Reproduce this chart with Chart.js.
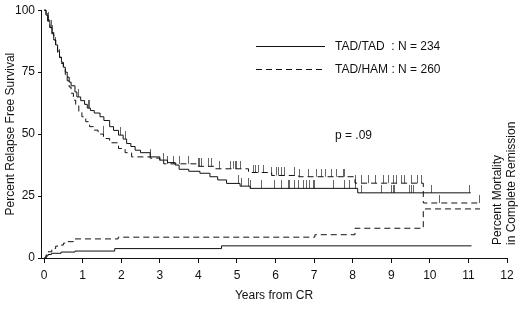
<!DOCTYPE html>
<html lang="en">
<head>
<meta charset="UTF-8">
<title>Relapse Free Survival TAD/TAD vs TAD/HAM</title>
<script src="https://cdn.jsdelivr.net/npm/chart.js"></script>
<style>
  html, body { margin: 0; padding: 0; background: #fff; }
  #wrap { width: 520px; height: 312px; }
</style>
</head>
<body>
<div id="wrap"><canvas id="myChart"></canvas></div>
<script>
// relapse free survival, TAD/TAD arm (years from CR, percent)
const tadTadTimes = [0, 0.05, 0.1, 0.15, 0.2, 0.25, 0.3, 0.35, 0.4, 0.45, 0.5, 0.55, 0.6, 0.65, 0.7, 0.8, 0.85, 0.95, 1.05, 1.12,
  1.2, 1.3, 1.45, 1.55, 1.7, 1.8, 1.93, 2.05, 2.14, 2.25, 2.36, 2.5, 2.75, 3.0, 3.2, 3.4, 3.5, 3.75, 4.04, 4.3,
  4.5, 4.73, 5.08, 5.34, 8.13, 11.06];
const tadTadRfs = [100, 98, 96, 93, 91, 88, 86, 83.5, 81, 79, 77, 75, 73, 71, 69.5, 67, 65, 63.5, 62, 60.5,
  59.5, 58.5, 57, 55.5, 53, 51.5, 49.6, 48, 46.2, 45, 43.5, 42.5, 40.8, 39.5, 38.5, 37.5, 35.8, 35, 34.2, 32.8,
  31.5, 30.1, 29, 28.1, 26.3, 26.3];

// relapse free survival, TAD/HAM arm
const tadHamTimes = [0, 0.05, 0.1, 0.15, 0.2, 0.25, 0.3, 0.35, 0.4, 0.45, 0.5, 0.55, 0.6, 0.65, 0.7, 0.76, 0.82, 0.9, 0.98, 1.08,
  1.18, 1.28, 1.4, 1.54, 1.7, 1.93, 2.1, 2.27, 2.75, 3.0, 3.1, 4.0, 4.4, 5.3, 5.9, 6.6, 8.06, 9.83, 11.3];
const tadHamRfs = [100, 98, 95.5, 93, 90.5, 88, 85.5, 83, 81, 78.5, 76.5, 74, 71.5, 69, 66.5, 63.7, 61.5, 59, 57, 55,
  53, 51.6, 50, 48.2, 46.5, 44.2, 42.5, 40.8, 40.3, 39, 38, 37, 36, 34.5, 33.3, 32.8, 30.2, 22.2, 22.2];

// mortality in complete remission
const mortTadTimes = [0, 0.05, 0.1, 0.19, 0.44, 0.8, 1.83, 4.6, 11.08];
const mortTadPct = [0, 0.8, 1.4, 1.9, 2.4, 2.8, 3.8, 4.9, 4.9];
const mortHamTimes = [0, 0.05, 0.1, 0.2, 0.3, 0.36, 0.5, 0.62, 0.79, 1.92, 7.02, 8.06, 9.83, 11.3];
const mortHamPct = [0, 1.2, 2.5, 3.8, 4.8, 5.2, 6, 6.6, 7.7, 8.4, 9.4, 12, 19.8, 19.8];

// censored observations (years)
const tadTadCensor = [0.12, 0.22, 0.3, 0.88, 1.15, 1.19, 1.97, 2.1, 2.75, 5.03, 5.12, 5.29, 5.34, 5.64, 5.98, 6.16, 6.33,
  6.37, 6.5, 6.59, 6.72, 6.8, 6.89, 6.98, 7.02, 7.5, 7.8, 7.93, 8.06, 8.23, 8.75, 9.0, 9.05, 9.09, 9.48, 9.52, 9.57,
  10.04, 11.04];
const tadHamCensor = [0.1, 0.18, 0.4, 1.53, 3.09, 3.2, 3.35, 3.52, 3.74, 4.0, 4.04, 4.09, 4.26, 4.34, 4.56, 4.82, 4.9,
  4.95, 4.99, 5.08, 5.42, 5.47, 5.55, 5.68, 5.9, 6.03, 6.07, 6.16, 6.24, 6.5, 6.63, 6.85, 7.07, 7.19, 7.3, 7.45, 7.57,
  7.75, 7.8, 8.06, 8.23, 8.4, 8.59, 8.79, 8.92, 9.05, 9.14, 9.27, 9.35, 9.52, 9.69, 9.78, 10.26, 11.3];

const xTicks = [0, 1, 2, 3, 4, 5, 6, 7, 8, 9, 10, 11, 12];
const yTicks = [0, 25, 50, 75, 100];
const legendLabels = ['TAD/TAD  : N = 234', 'TAD/HAM : N = 260'];
const pValueText = 'p = .09';
const rightTitle = ['Percent Mortality', 'in Complete Remission'];

const FONT = '"Liberation Sans", Arial, sans-serif';
const INK = '#111';
const DASH = [6, 4];

function toPoints(times, vals) {
    return times.map((t, i) => ({ x: t, y: vals[i] }));
}

// value of a step curve at time t
function stepAt(times, vals, t) {
    let v = vals[0];
    for (let i = 0; i < times.length; i++) {
        if (times[i] <= t) v = vals[i];
    }
    return v;
}

// small vertical tick drawn upward from the curve
const censorMark = document.createElement('canvas');
censorMark.width = 1;
censorMark.height = 16;
(function () {
    const c = censorMark.getContext('2d');
    c.fillStyle = '#666';
    c.fillRect(0, 0, 1, 8);
})();

function stepLine(data, dashed) {
    return {
        data: data,
        borderColor: INK,
        borderWidth: 1,
        borderDash: dashed ? DASH : [],
        stepped: 'before',   // hold the previous value until the next time point
        pointRadius: 0,
        fill: false,
        clip: false
    };
}

function censorSet(times, curveT, curveV) {
    return {
        type: 'scatter',
        data: times.map(t => ({ x: t, y: stepAt(curveT, curveV, t) })),
        pointStyle: censorMark,
        pointRadius: 8,
        showLine: false,
        clip: false
    };
}

const annotations = {
    id: 'annotations',
    afterDraw(chart) {
        const ctx = chart.ctx;
        ctx.save();
        ctx.strokeStyle = INK;
        ctx.fillStyle = INK;
        ctx.lineWidth = 1;
        ctx.font = '12px ' + FONT;
        ctx.textBaseline = 'middle';
        ctx.textAlign = 'left';

        // legend
        ctx.beginPath();
        ctx.moveTo(256, 46.5);
        ctx.lineTo(325, 46.5);
        ctx.stroke();
        ctx.setLineDash(DASH);
        ctx.beginPath();
        ctx.moveTo(256, 69.5);
        ctx.lineTo(325, 69.5);
        ctx.stroke();
        ctx.setLineDash([]);
        ctx.fillText(legendLabels[0], 335, 47);
        ctx.fillText(legendLabels[1], 335, 70);

        ctx.fillText(pValueText, 335, 136);

        // right hand axis title
        ctx.translate(498, 245);
        ctx.rotate(-Math.PI / 2);
        ctx.fillText(rightTitle[0], 0, 0);
        ctx.fillText(rightTitle[1], 0, 14);
        ctx.restore();
    }
};

const config = {
    type: 'line',
    data: {
        datasets: [
            stepLine(toPoints(tadTadTimes, tadTadRfs), false),
            stepLine(toPoints(tadHamTimes, tadHamRfs), true),
            stepLine(toPoints(mortTadTimes, mortTadPct), false),
            stepLine(toPoints(mortHamTimes, mortHamPct), true),
            censorSet(tadTadCensor, tadTadTimes, tadTadRfs),
            censorSet(tadHamCensor, tadHamTimes, tadHamRfs)
        ]
    },
    options: {
        responsive: true,
        maintainAspectRatio: false,
        animation: false,
        layout: { padding: { top: 10, right: 13, left: 0, bottom: 0 } },
        plugins: {
            legend: { display: false },
            tooltip: { enabled: false }
        },
        scales: {
            x: {
                type: 'linear',
                min: -0.08,
                max: 12,
                afterBuildTicks: (axis) => { axis.ticks = xTicks.map(v => ({ value: v })); },
                afterFit: (axis) => { axis.height = 54; },
                border: { color: INK, width: 1 },
                grid: { drawOnChartArea: false, tickLength: 5, color: INK },
                ticks: { color: INK, padding: 5, maxRotation: 0, font: { family: FONT, size: 12 } },
                title: {
                    display: true,
                    text: 'Years from CR',
                    color: INK,
                    font: { family: FONT, size: 12 },
                    padding: { top: 4, bottom: 9 }
                }
            },
            y: {
                min: 0,
                max: 100,
                afterBuildTicks: (axis) => { axis.ticks = yTicks.map(v => ({ value: v })); },
                afterFit: (axis) => { axis.width = 41; },
                border: { color: INK, width: 1 },
                grid: { drawOnChartArea: false, tickLength: 3, color: INK },
                ticks: { color: INK, padding: 3, font: { family: FONT, size: 12 } },
                title: {
                    display: true,
                    text: 'Percent Relapse Free Survival',
                    color: INK,
                    font: { family: FONT, size: 12 },
                    padding: { top: 3, bottom: 0 }
                }
            }
        }
    },
    plugins: [annotations]
};

var chart = new Chart(document.getElementById('myChart'), config);
</script>
</body>
</html>
